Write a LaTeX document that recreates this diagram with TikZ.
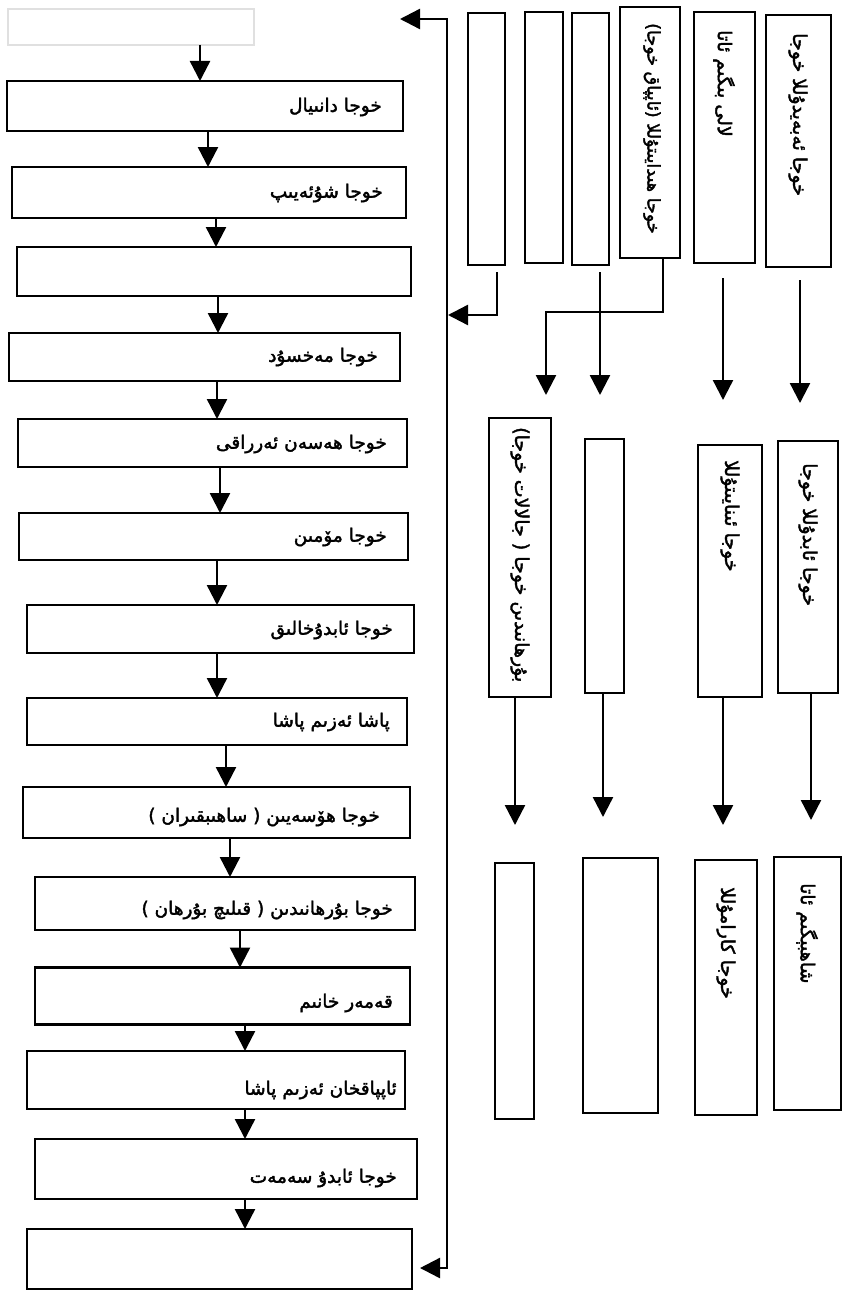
\documentclass[tikz,border=0pt]{standalone}
\usepackage{fontspec}
\usetikzlibrary{arrows.meta}
\TeXXeTstate=1
\newfontfamily\arabicfont[Script=Arabic,FakeBold=2]{DejaVu Sans}
\newcommand{\uyg}[1]{\beginR #1\endR}
\begin{document}
\begin{tikzpicture}[x=1pt,y=-1pt,
  box/.style={draw, line width=2.6pt, rectangle, inner sep=0pt, outer sep=0pt},
  ghost/.style={draw=black!12, line width=1.5pt, rectangle, inner sep=0pt, outer sep=0pt},
  arr/.style={line width=2.4pt, -{Triangle[width=20pt,length=20pt]}},
  ltext/.style={font=\arabicfont\fontsize{18.5}{20}\selectfont, anchor=east, inner sep=0pt},
  vtext/.style={font=\arabicfont\fontsize{19}{20}\selectfont, rotate=-90, anchor=west, inner sep=0pt}]
\fill[white] (0,0) rectangle (844,1303);
\useasboundingbox (0,0) rectangle (844,1303);
% faint top box
\node[ghost, minimum width=246pt, minimum height=36pt] (L0) at (131,27) {};
% left column
\node[box, minimum width=396pt, minimum height=50pt] (L1) at (205,106) {};
\node[box, minimum width=394pt, minimum height=51pt] (L2) at (209,192.5) {};
\node[box, minimum width=394pt, minimum height=49pt] (L3) at (214,271.5) {};
\node[box, minimum width=391pt, minimum height=48pt] (L4) at (204.5,357) {};
\node[box, minimum width=389pt, minimum height=48pt] (L5) at (212.5,443) {};
\node[box, minimum width=389pt, minimum height=47pt] (L6) at (213.5,536.5) {};
\node[box, minimum width=387pt, minimum height=48pt] (L7) at (220.5,629) {};
\node[box, minimum width=380pt, minimum height=47pt] (L8) at (217,721.5) {};
\node[box, minimum width=387pt, minimum height=51pt] (L9) at (216.5,812.5) {};
\node[box, minimum width=380pt, minimum height=53pt] (L10) at (225,903.5) {};
\node[box, minimum width=375pt, minimum height=57pt] (L11) at (222.5,996) {};
\node[box, minimum width=378pt, minimum height=58pt] (L12) at (216,1080) {};
\node[box, minimum width=382pt, minimum height=60pt] (L13) at (226,1169) {};
\node[box, minimum width=385pt, minimum height=60pt] (L14) at (219.5,1259) {};
% left texts
\node[ltext] (t1) at (382,107) {\uyg{خوجا دانىيال}};
\node[ltext] (t2) at (383,193) {\uyg{خوجا شۇئەيىپ}};
\node[ltext] (t4) at (378,357) {\uyg{خوجا مەخسۇد}};
\node[ltext] (t5) at (387,444) {\uyg{خوجا ھەسەن ئەرراقى}};
\node[ltext] (t6) at (387,537) {\uyg{خوجا مۆمىن}};
\node[ltext] (t7) at (393,630) {\uyg{خوجا ئابدۇخالىق}};
\node[ltext] (t8) at (390,722) {\uyg{پاشا ئەزىم پاشا}};
\node[ltext] (t9) at (380,817) {\uyg{خوجا ھۆسەيىن ( ساھىبقىران )}};
\node[ltext] (t10) at (393,910) {\uyg{خوجا بۇرھانىدىن ( قىلىچ بۇرھان )}};
\node[ltext] (t11) at (393,1003) {\uyg{قەمەر خانىم}};
\node[ltext] (t12) at (397,1090) {\uyg{ئاپپاقخان ئەزىم پاشا}};
\node[ltext] (t13) at (397,1178) {\uyg{خوجا ئابدۇ سەمەت}};
% left arrows
\coordinate (top0) at (200,0);
\coordinate (a1) at (208,0);
\coordinate (a2) at (216,0);
\coordinate (a3) at (218,0);
\coordinate (a4) at (217,0);
\coordinate (a5) at (220,0);
\coordinate (a6) at (217,0);
\coordinate (a7) at (217,0);
\coordinate (a8) at (226,0);
\coordinate (a9) at (230,0);
\coordinate (a10) at (240,0);
\coordinate (a11) at (245,0);
\draw[arr] (L0.south -| top0) -- (L1.north -| top0);
\draw[arr] (L1.south -| a1) -- (L2.north -| a1);
\draw[arr] (L2.south -| a2) -- (L3.north -| a2);
\draw[arr] (L3.south -| a3) -- (L4.north -| a3);
\draw[arr] (L4.south -| a4) -- (L5.north -| a4);
\draw[arr] (L5.south -| a5) -- (L6.north -| a5);
\draw[arr] (L6.south -| a6) -- (L7.north -| a6);
\draw[arr] (L7.south -| a7) -- (L8.north -| a7);
\draw[arr] (L8.south -| a8) -- (L9.north -| a8);
\draw[arr] (L9.south -| a9) -- (L10.north -| a9);
\draw[arr] (L10.south -| a10) -- (L11.north -| a10);
\draw[arr] (L11.south -| a11) -- (L12.north -| a11);
\draw[arr] (L12.south -| a11) -- (L13.north -| a11);
\draw[arr] (L13.south -| a11) -- (L14.north -| a11);
% top row
\node[box, minimum width=37pt, minimum height=252pt] (B1) at (486.5,139) {};
\node[box, minimum width=38pt, minimum height=251pt] (B2) at (544,137.5) {};
\node[box, minimum width=37pt, minimum height=252pt] (B3) at (590.5,139) {};
\node[box, minimum width=60pt, minimum height=251pt] (B4) at (650,132.5) {};
\node[box, minimum width=61pt, minimum height=251pt] (B5) at (724.5,137.5) {};
\node[box, minimum width=65pt, minimum height=252pt] (B6) at (798.5,141) {};
\node[vtext, font=\arabicfont\fontsize{17.5}{19}\selectfont] (tb4) at (652,23) {\uyg{خوجا ھىدايىتۇللا (ئاپپاق خوجا)}};
\node[vtext] (tb5) at (724,30) {\uyg{لالى بىگىم ئاتا}};
\node[vtext] (tb6) at (798,33) {\uyg{خوجا ئەبەيدۇللا خوجا}};
% middle row
\node[box, minimum width=62pt, minimum height=279pt] (M1) at (520,557.5) {};
\node[box, minimum width=39pt, minimum height=254pt] (M2) at (604.5,566) {};
\node[box, minimum width=64pt, minimum height=252pt] (M3) at (730,571) {};
\node[box, minimum width=60pt, minimum height=252pt] (M4) at (808,567) {};
\node[vtext] (tm1) at (520,427) {\uyg{بۇرھانىدىن خوجا ( جالالات خوجا)}};
\node[vtext] (tm3) at (730,460) {\uyg{خوجا ئىنايىتۇللا}};
\node[vtext] (tm4) at (808,463) {\uyg{خوجا ئابدۇللا خوجا}};
% bottom row
\node[box, minimum width=39pt, minimum height=256pt] (R1) at (514.5,991) {};
\node[box, minimum width=75pt, minimum height=255pt] (R2) at (620.5,985.5) {};
\node[box, minimum width=62pt, minimum height=255pt] (R3) at (726,987.5) {};
\node[box, minimum width=67pt, minimum height=253pt] (R4) at (807.5,983.5) {};
\node[vtext] (tr3) at (726,887) {\uyg{خوجا كارامۇللا}};
\node[vtext] (tr4) at (807,883) {\uyg{شاھبېگىم ئاتا}};
% long return line
\coordinate (vtop) at (447,19);
\coordinate (ttip) at (400,19);
\coordinate (vbot) at (447,1268);
\draw[line width=2.4pt, {Triangle[width=20pt,length=20pt]}-{Triangle[width=20pt,length=20pt]}, shorten >=8pt]
  (ttip) -- (vtop) -- (vbot) -- (vbot -| L14.east);
\coordinate (j315) at (448,315);
\draw[arr, shorten <=7pt] ([xshift=10.5pt]B1.south) |- (j315);
% top to middle
\coordinate (x600) at (600,0);
\coordinate (k312) at (546,312);
\coordinate (x723) at (723,0);
\coordinate (x800) at (800,0);
\draw[arr, shorten <=7pt, shorten >=44pt] (B3.south -| x600) -- (M2.north -| x600);
\draw[arr, shorten >=23pt] ([xshift=13pt]B4.south) |- (k312) -- (k312 |- M1.north);
\draw[arr, shorten <=15pt, shorten >=45pt] (B5.south -| x723) -- (M3.north -| x723);
\draw[arr, shorten <=13pt, shorten >=38pt] (B6.south -| x800) -- (M4.north -| x800);
% middle to bottom
\coordinate (x515) at (515,0);
\coordinate (x603) at (603,0);
\coordinate (x811) at (811,0);
\draw[arr, shorten >=38pt] (M1.south -| x515) -- (R1.north -| x515);
\draw[arr, shorten >=41pt] (M2.south -| x603) -- (R2.north -| x603);
\draw[arr, shorten >=35pt] (M3.south -| x723) -- (R3.north -| x723);
\draw[arr, shorten >=37pt] (M4.south -| x811) -- (R4.north -| x811);
\end{tikzpicture}
\end{document}
